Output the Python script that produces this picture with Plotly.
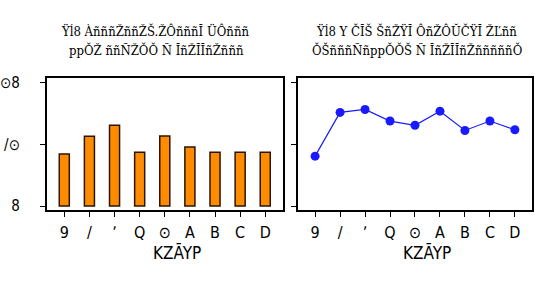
import plotly.graph_objects as go

# data
categories = [1, 2, 3, 4, 5, 6, 7, 8, 9]
tick_labels = ["9", "/", "ʼ", "Q", "⊙", "A", "B", "C", "D"]
bar_values = [21.1, 28.2, 32.7, 21.8, 28.4, 23.9, 21.8, 21.8, 21.8]
line_values = [20.2, 37.9, 39.1, 34.4, 32.7, 38.4, 30.6, 34.4, 30.9]
y_tick_vals = [0, 25, 50]
y_tick_text = ["8", "/⊙", "⊙8"]
title_left = ["Ÿĺ8 ÀñññŽññŽŠ.ŽÔñññĬ ÜÔñññ", "ppǑŽ ññÑŽǑǑ Ñ ĬñŽĬĬñŽñññ"]
title_right = ["Ÿĺ8 Y ČĬŠ ŠñŽŸĬ ÔñŽÔŬČŸĬ ŽĽññ", "ǑŠñññÑñppǑǑŠ Ñ ĬñŽĬĬñŽñññññǑ"]
x_title = "KZĀYP"

W, H = 537, 282
def px(x):
    return x / W
def py(y):
    return 1 - y / H

fig = go.Figure()
fig.add_trace(go.Bar(x=categories, y=bar_values, width=0.4,
                     marker=dict(color="#FF8C00", line=dict(color="#2a1500", width=1.5)),
                     xaxis="x", yaxis="y", showlegend=False))
fig.add_trace(go.Scatter(x=categories, y=line_values, mode="lines+markers",
                         line=dict(color="#1a1aff", width=1.2),
                         marker=dict(color="#1a1aff", size=9),
                         xaxis="x2", yaxis="y2", showlegend=False))

xtickfont = dict(family="DejaVu Sans Condensed, Liberation Sans Narrow", size=16, color="black")
ytickfont = dict(family="DejaVu Sans Condensed, Liberation Sans Narrow", size=15, color="black")
common_x = dict(range=[0.3, 9.7], tickvals=categories, ticktext=tick_labels,
                showline=True, mirror=True, linecolor="black", linewidth=1.5,
                ticks="outside", ticklen=5, tickwidth=1.3, tickcolor="black",
                showgrid=False, zeroline=False, tickfont=xtickfont, fixedrange=True)
common_y = dict(range=[-1.8, 52], tickvals=y_tick_vals, ticktext=y_tick_text,
                showline=True, mirror=True, linecolor="black", linewidth=1.5,
                ticks="outside", ticklen=5, tickwidth=1.3, tickcolor="black",
                showgrid=False, zeroline=False, tickfont=ytickfont, fixedrange=True)

y_dom = [py(213.3), py(76)]
fig.update_layout(
    width=W, height=H, margin=dict(l=0, r=0, t=0, b=0),
    paper_bgcolor="white", plot_bgcolor="white",
    xaxis=dict(domain=[px(39.3), px(279)], anchor="y", ticklabelstandoff=2, **common_x),
    yaxis=dict(domain=y_dom, anchor="x", ticklabelstandoff=17, **common_y),
    xaxis2=dict(domain=[px(294), px(532.3)], anchor="y2", ticklabelstandoff=2, **common_x),
    yaxis2=dict(domain=y_dom, anchor="x2", showticklabels=False, **common_y),
)

tfont = dict(family="DejaVu Serif Condensed, Liberation Serif", size=13, color="black")
ann = []
ann.append(dict(text=title_left[0], x=px(149.5), y=py(27.5), xref="paper", yref="paper",
                showarrow=False, font=tfont, xanchor="center", yanchor="middle"))
ann.append(dict(text=title_left[1], x=px(151), y=py(47.5), xref="paper", yref="paper",
                showarrow=False, font=tfont, xanchor="center", yanchor="middle"))
ann.append(dict(text=title_right[0], x=px(414.5), y=py(27.5), xref="paper", yref="paper",
                showarrow=False, font=tfont, xanchor="center", yanchor="middle"))
ann.append(dict(text=title_right[1], x=px(415), y=py(47.5), xref="paper", yref="paper",
                showarrow=False, font=tfont, xanchor="center", yanchor="middle"))
xfont = dict(family="DejaVu Sans Condensed, Liberation Sans Narrow", size=17, color="black")
ann.append(dict(text=x_title, x=px(171.7), y=py(257), xref="paper", yref="paper",
                showarrow=False, font=xfont, xanchor="center", yanchor="middle"))
ann.append(dict(text=x_title, x=px(425), y=py(257), xref="paper", yref="paper",
                showarrow=False, font=xfont, xanchor="center", yanchor="middle"))
fig.update_layout(annotations=ann)

fig.write_html("out.html")
